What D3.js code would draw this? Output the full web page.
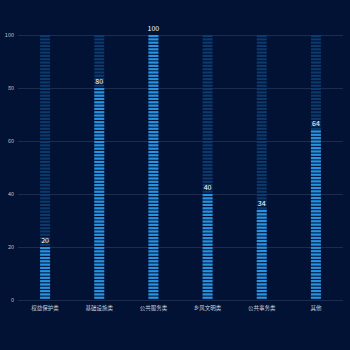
<!DOCTYPE html>
<html><head><meta charset="utf-8">
<script src="https://cdn.jsdelivr.net/npm/d3@7"></script>
<style>html,body{margin:0;padding:0;background:#011235;}svg{display:block;}</style>
</head><body>
<script>
const categories = ["权益保护类","基础设施类","公共服务类","乡风文明类","公共事务类","其他"];
const values = [20, 80, 100, 40, 34, 64];
const yTicks = [0, 20, 40, 60, 80, 100];
const maxValue = 100;

const W = 350, H = 350;
const m = {left: 18, right: 7, top: 35, bottom: 50};
const svg = d3.select("body").append("svg").attr("width", W).attr("height", H);
svg.append("rect").attr("width", W).attr("height", H).attr("fill", "#011235");

const x = d3.scaleBand().domain(categories).range([m.left, W - m.right]);
const y = d3.scaleLinear().domain([0, maxValue]).range([H - m.bottom, m.top]);
const font = "'Noto Sans CJK SC', 'Noto Sans', sans-serif";

svg.append("g").selectAll("line").data(yTicks).join("line")
  .attr("x1", m.left).attr("x2", W - m.right)
  .attr("y1", d => y(d) + 0.5).attr("y2", d => y(d) + 0.5)
  .attr("stroke", "#1d2c4c").attr("stroke-width", 1);

svg.append("g").selectAll("text").data(yTicks).join("text")
  .attr("x", m.left - 4).attr("y", d => y(d)).attr("dy", "0.35em")
  .attr("text-anchor", "end").attr("fill", "#b8c2d4")
  .attr("font-size", 5.5).attr("font-family", font).text(d => d);

svg.append("g").selectAll("text").data(categories).join("text")
  .attr("x", d => x(d) + x.bandwidth() / 2).attr("y", H - m.bottom + 8)
  .attr("dy", "0.35em").attr("text-anchor", "middle").attr("fill", "#c8d0de")
  .attr("font-size", 5.5).attr("font-family", font).text(d => d);

const barW = 10, pitch = 3.33, seg = 2.1;
function stripes(g, cat, v, color) {
  const top = y(v), bottom = y(0);
  const n = Math.round((bottom - top) / pitch);
  const p = n > 0 ? (bottom - top) / n : pitch;
  g.selectAll(null).data(d3.range(n)).join("rect")
    .attr("x", x(cat) + x.bandwidth() / 2 - barW / 2)
    .attr("width", barW)
    .attr("y", i => bottom - (i + 1) * p)
    .attr("height", seg)
    .attr("fill", color);
}
const bars = svg.append("g");
categories.forEach((c, i) => {
  const g = bars.append("g");
  stripes(g, c, maxValue, "#0c3a6c");
  const fg = bars.append("g");
  stripes(fg, c, values[i], "#2a93df");
});

svg.append("g").selectAll("text").data(values).join("text")
  .attr("x", (d, i) => x(categories[i]) + x.bandwidth() / 2)
  .attr("y", d => y(d) - 4)
  .attr("text-anchor", "middle").attr("fill", "#ffffff")
  .attr("font-size", 7).attr("font-family", font).text(d => d);
</script>
</body></html>
